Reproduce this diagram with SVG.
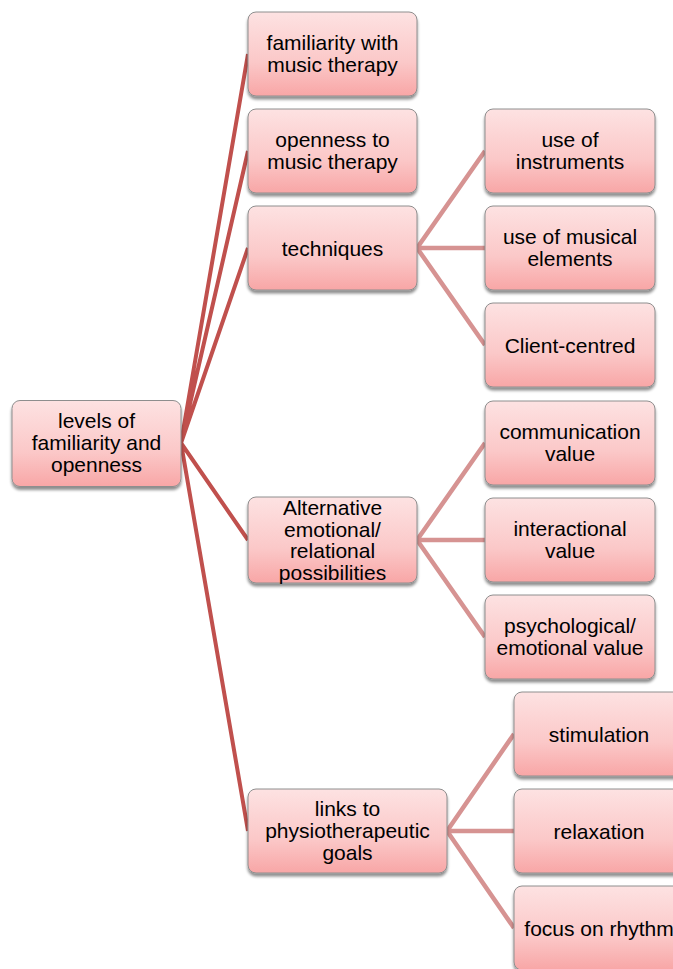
<svg xmlns="http://www.w3.org/2000/svg" width="673" height="969" viewBox="0 0 673 969">
  <style>
    .box { fill: url(#boxFill); stroke: #8e8e8e; stroke-width: 1; filter: url(#shadow); }
    .lbl { font-family: "Liberation Sans", Arial, sans-serif; font-size: 21px; fill: #000; text-anchor: middle; }
    .main { stroke: #c0504d; stroke-width: 4; fill: none; }
    .sub { stroke: #d69392; stroke-width: 4.5; fill: none; }
  </style>
  <defs>
    <linearGradient id="boxFill" x1="0" y1="0" x2="0" y2="1">
      <stop offset="0" stop-color="#fde2e2"/>
      <stop offset="0.6" stop-color="#fbc8c8"/>
      <stop offset="1" stop-color="#f8a6a6"/>
    </linearGradient>
    <filter id="shadow" x="-10%" y="-10%" width="120%" height="130%">
      <feGaussianBlur in="SourceAlpha" stdDeviation="1.8"/>
      <feOffset dx="0" dy="2.5" result="b"/>
      <feComponentTransfer><feFuncA type="linear" slope="0.45"/></feComponentTransfer>
      <feMerge><feMergeNode/><feMergeNode in="SourceGraphic"/></feMerge>
    </filter>
  </defs>
  <rect width="673" height="969" fill="#fff"/>

  <g id="connectors">
    <path class="main" d="M181 443 L248 54 M181 443 L248 151 M181 443 L248 248 M181 443 L248 540 M181 443 L248 831"/>
    <path class="sub" d="M417 248 L485 151 M417 248 L485 248 M417 248 L485 345"/>
    <path class="sub" d="M417 540 L485 443 M417 540 L485 540 M417 540 L485 637"/>
    <path class="sub" d="M447 831 L514 734 M447 831 L514 831 M447 831 L514 928"/>
  </g>

  <g id="root">
    <rect class="box" x="12" y="400.5" width="169" height="86" rx="8"/>
    <text class="lbl" x="96.5" y="428">levels of</text>
    <text class="lbl" x="96.5" y="450">familiarity and</text>
    <text class="lbl" x="96.5" y="472">openness</text>
  </g>

  <g id="familiarity">
    <rect class="box" x="248" y="12" width="169" height="84" rx="8"/>
    <text class="lbl" x="332.5" y="50">familiarity with</text>
    <text class="lbl" x="332.5" y="72">music therapy</text>
  </g>

  <g id="openness">
    <rect class="box" x="248" y="109" width="169" height="84" rx="8"/>
    <text class="lbl" x="332.5" y="147">openness to</text>
    <text class="lbl" x="332.5" y="169">music therapy</text>
  </g>

  <g id="techniques">
    <rect class="box" x="248" y="206" width="169" height="84" rx="8"/>
    <text class="lbl" x="332.5" y="255.5">techniques</text>
  </g>

  <g id="instruments">
    <rect class="box" x="485" y="109" width="170" height="84" rx="8"/>
    <text class="lbl" x="570" y="147">use of</text>
    <text class="lbl" x="570" y="169">instruments</text>
  </g>

  <g id="musical-elements">
    <rect class="box" x="485" y="206" width="170" height="84" rx="8"/>
    <text class="lbl" x="570" y="244">use of musical</text>
    <text class="lbl" x="570" y="266">elements</text>
  </g>

  <g id="client-centred">
    <rect class="box" x="485" y="303" width="170" height="84" rx="8"/>
    <text class="lbl" x="570" y="353">Client-centred</text>
  </g>

  <g id="alternative">
    <rect class="box" x="248" y="497" width="169" height="86" rx="8"/>
    <text class="lbl" x="332.5" y="515">Alternative</text>
    <text class="lbl" x="332.5" y="536.5">emotional/</text>
    <text class="lbl" x="332.5" y="558">relational</text>
    <text class="lbl" x="332.5" y="579.5">possibilities</text>
  </g>

  <g id="communication">
    <rect class="box" x="485" y="401" width="170" height="84" rx="8"/>
    <text class="lbl" x="570" y="439">communication</text>
    <text class="lbl" x="570" y="461">value</text>
  </g>

  <g id="interactional">
    <rect class="box" x="485" y="498" width="170" height="84" rx="8"/>
    <text class="lbl" x="570" y="536">interactional</text>
    <text class="lbl" x="570" y="558">value</text>
  </g>

  <g id="psychological">
    <rect class="box" x="485" y="595" width="170" height="84" rx="8"/>
    <text class="lbl" x="570" y="633">psychological/</text>
    <text class="lbl" x="570" y="655">emotional value</text>
  </g>

  <g id="links">
    <rect class="box" x="248" y="789" width="199" height="84" rx="8"/>
    <text class="lbl" x="347.5" y="816">links to</text>
    <text class="lbl" x="347.5" y="838">physiotherapeutic</text>
    <text class="lbl" x="347.5" y="860">goals</text>
  </g>

  <g id="stimulation">
    <rect class="box" x="514" y="692" width="170" height="84" rx="8"/>
    <text class="lbl" x="599" y="742">stimulation</text>
  </g>

  <g id="relaxation">
    <rect class="box" x="514" y="789" width="170" height="84" rx="8"/>
    <text class="lbl" x="599" y="839">relaxation</text>
  </g>

  <g id="rhythm">
    <rect class="box" x="514" y="886" width="170" height="84" rx="8"/>
    <text class="lbl" x="599" y="936">focus on rhythm</text>
  </g>
</svg>
